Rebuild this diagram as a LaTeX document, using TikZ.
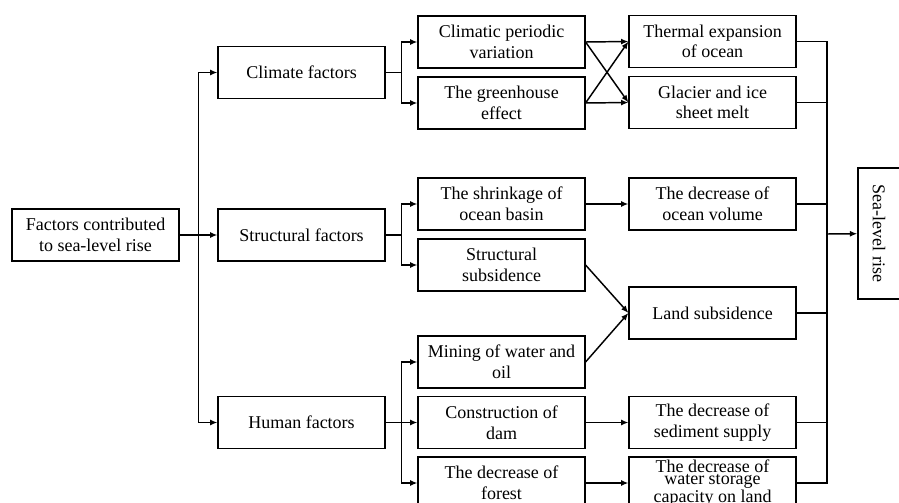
\documentclass[tikz,border=0pt]{standalone}
\usepackage{fontspec}
\setmainfont{Liberation Serif}
\usetikzlibrary{arrows.meta}

\begin{document}
\begin{tikzpicture}[x=0.75pt, y=-0.75pt,
    caixa/.style={draw, line width=1.1pt, minimum width=125pt, minimum height=39pt,
        align=center, inner sep=1pt, font=\fontsize{13.5}{15.5}\selectfont},
    liga/.style={line width=1.1pt},
    seta/.style={line width=1.1pt, -{Latex[length=5.5pt,width=4.5pt]}}]
    \useasboundingbox (0,0) rectangle (899,503);
    \clip (0,0) rectangle (899,503);

    % Caixas
    \node[caixa] (raiz) at (95.5,235) {Factors contributed\\to sea-level rise};

    \node[caixa] (clima) at (301.5,72.5) {Climate factors};
    \node[caixa] (estrut) at (301.5,235) {Structural factors};
    \node[caixa] (humano) at (301.5,422.5) {Human factors};

    \node[caixa] (periodo) at (501.5,42) {Climatic periodic\\variation};
    \node[caixa] (estufa) at (501.5,103) {The greenhouse\\effect};
    \node[caixa] (bacia) at (501.5,204) {The shrinkage of\\ocean basin};
    \node[caixa] (subsid) at (501.5,265) {Structural\\subsidence};
    \node[caixa] (mina) at (501.5,362) {Mining of water and\\oil};
    \node[caixa] (barragem) at (501.5,422.5) {Construction of\\dam};
    \node[caixa] (floresta) at (501.5,483) {The decrease of\\forest};

    \node[caixa] (termica) at (712.5,41.5) {Thermal expansion\\of ocean};
    \node[caixa] (gelo) at (712.5,102.5) {Glacier and ice\\sheet melt};
    \node[caixa] (volume) at (712.5,204) {The decrease of\\ocean volume};
    \node[caixa] (terra) at (712.5,313) {Land subsidence};
    \node[caixa] (sedim) at (712.5,422.5) {The decrease of\\sediment supply};
    \node[caixa, font=\fontsize{13.5}{9}\selectfont] (agua) at (712.5,483)
        {The decrease of\\water storage\\capacity on land};

    \node[caixa, rotate=-90, minimum width=98.5pt, minimum height=31.5pt]
        (nivel) at (879,233.5) {Sea-level rise};

    % Barramentos
    \coordinate (b1) at (198.5,235);
    \coordinate (b2) at (401.5,72.5);
    \coordinate (b3) at (401.5,235);
    \coordinate (b4) at (401.5,422.5);
    \coordinate (b5) at (827,234);

    % Ligações do primeiro nível
    \draw[seta] (raiz) -- (estrut);
    \draw[seta] (b1) |- (clima);
    \draw[seta] (b1) |- (humano);

    % Ligações do segundo nível
    \draw[liga] (clima) -- (b2);
    \draw[seta] (b2) |- (periodo);
    \draw[seta] (b2) |- (estufa);
    \draw[liga] (estrut) -- (b3);
    \draw[seta] (b3) |- (bacia);
    \draw[seta] (b3) |- (subsid);
    \draw[seta] (humano) -- (barragem);
    \draw[seta] (b4) |- (mina);
    \draw[seta] (b4) |- (floresta);

    % Ligações do terceiro nível
    \draw[seta] (periodo.east) -- (termica.west);
    \draw[seta] (periodo.east) -- (gelo.west);
    \draw[seta] (estufa.east) -- (termica.west);
    \draw[seta] (estufa.east) -- (gelo.west);
    \draw[seta] (bacia) -- (volume);
    \draw[seta] (subsid.east) -- (terra.west);
    \draw[seta] (mina.east) -- (terra.west);
    \draw[seta] (barragem) -- (sedim);
    \draw[seta] (floresta) -- (agua);

    % Saída
    \foreach \n in {termica,gelo,volume,terra,sedim,agua}
        \draw[liga] (\n.east) -| (b5);
    \draw[seta] (b5) -- (nivel);
\end{tikzpicture}
\end{document}
